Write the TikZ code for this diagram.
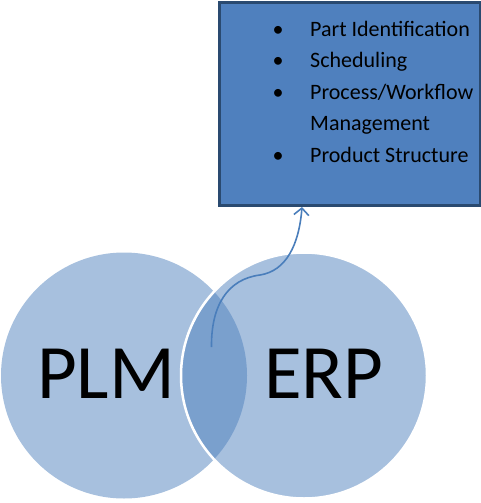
\documentclass[tikz,border=0pt]{standalone}
\usepackage{fontspec}
\setmainfont{Carlito}
\usetikzlibrary{arrows.meta}
\definecolor{accent}{HTML}{4F81BD}
\definecolor{boxfill}{HTML}{4F80BE}
\definecolor{boxline}{HTML}{2A4A70}
\definecolor{arrowc}{HTML}{4A7EBB}
\tikzset{
  venn/.style={circle, minimum size=246pt, inner sep=0pt, fill=accent, fill opacity=0.5},
  bigtext/.style={font=\fontsize{77}{80}\selectfont, text=black, inner sep=0pt},
  itemtext/.style={font=\fontsize{22}{24}\selectfont, text=black, anchor=base west, inner sep=0pt},
  bullettext/.style={font=\fontsize{22}{24}\selectfont, text=black, anchor=base, inner sep=0pt},
  infobox/.style={rectangle, draw=boxline, line width=3pt, fill=boxfill, minimum width=261pt, minimum height=202pt, inner sep=0pt},
  link/.style={draw=arrowc, line width=1.6pt, -{Straight Barb[length=7pt,width=15pt,line width=1.6pt]}}
}
\begin{document}
\begin{tikzpicture}[x=1pt,y=-1pt]
\useasboundingbox (0,0) rectangle (481,503);
% info box
\node[infobox] (box) at (350,104) {};
\node[bullettext] (b1) at (278,36.5) {•};
\node[itemtext] (t1) at (310,36.5) {Part Identification};
\node[bullettext] (b2) at (278,67.8) {•};
\node[itemtext] (t2) at (310,67.8) {Scheduling};
\node[bullettext] (b3) at (278,99.2) {•};
\node[itemtext] (t3) at (310,99.2) {Process/Workflow};
\node[itemtext] (t4) at (310,130.6) {Management};
\node[bullettext] (b5) at (278,162) {•};
\node[itemtext] (t5) at (310,162) {Product Structure};
% circles
\node[venn] (plm) at (124,375.5) {};
\node[venn, draw=white, line width=2.5pt, draw opacity=1] (erp) at (304,375.5) {};
\node[bigtext] (plmt) at (106,374) {PLM};
\node[bigtext] (erpt) at (324,374) {ERP};
% arrow
\coordinate (start) at (211.5,347);
\coordinate (mid) at (260,275);
\coordinate (tip) at (302,207);
\draw[link] (start) .. controls (211,305) and (228,279) .. (mid) .. controls (286,271) and (299,245) .. (tip);
\end{tikzpicture}
\end{document}
